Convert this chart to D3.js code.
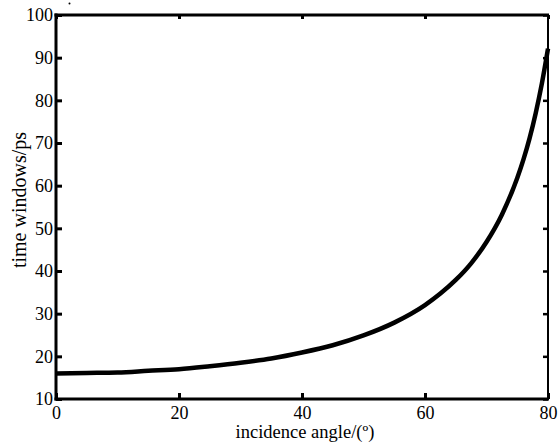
<!DOCTYPE html>
<html><head><meta charset="utf-8">
<script src="https://cdn.jsdelivr.net/npm/d3@7"></script>
<style>body{margin:0;background:#fff}svg{display:block}text{font-family:"Liberation Serif","Times New Roman",serif;fill:#000}</style>
</head><body>
<svg id="c" width="559" height="446"></svg>
<script>
const angles = [0, 5, 10, 15, 20, 25, 30, 35, 40, 45, 50, 55, 60, 62.5, 65, 67.5, 70, 72.5, 75, 76, 77, 78, 79, 80];
const timeWindows = [16.0, 16.1, 16.2, 16.6, 17.0, 17.7, 18.5, 19.5, 20.9, 22.6, 24.9, 27.9, 32.0, 34.7, 37.9, 41.8, 46.8, 53.2, 61.8, 66.1, 71.1, 77.0, 83.9, 92.1];
const xTicks = [0, 20, 40, 60, 80];
const yTicks = [10, 20, 30, 40, 50, 60, 70, 80, 90, 100];
const xTitle = "incidence angle/(º)";
const yTitle = "time windows/ps";

const L = 56, R = 548, T = 15, B = 399;
const svg = d3.select("#c");
const x = d3.scaleLinear().domain([0, 80]).range([L, R]);
const y = d3.scaleLinear().domain([10, 100]).range([B, T]);

// curve
const line = d3.line().x((d, i) => x(angles[i])).y(d => y(d)).curve(d3.curveMonotoneX);
svg.append("path").datum(timeWindows).attr("d", line)
  .attr("fill", "none").attr("stroke", "#000").attr("stroke-width", 4.5).attr("stroke-linejoin", "round");

// bottom axis
const gB = svg.append("g").attr("transform", `translate(0,${B})`)
  .call(d3.axisBottom(x).tickValues(xTicks).tickSize(-6).tickPadding(7).tickFormat(d3.format("d")));
// left axis
const gL = svg.append("g").attr("transform", `translate(${L},0)`)
  .call(d3.axisLeft(y).tickValues(yTicks).tickSize(-6).tickPadding(3).tickFormat(d3.format("d")));
// top axis
const gT = svg.append("g").attr("transform", `translate(0,${T})`)
  .call(d3.axisTop(x).tickValues(xTicks).tickSize(-4).tickFormat(""));
// right axis
const gR = svg.append("g").attr("transform", `translate(${R},0)`)
  .call(d3.axisRight(y).tickValues(yTicks).tickSize(-5).tickFormat(""));

[gB, gL, gT].forEach(g => {
  g.select(".domain").attr("stroke-width", 3).attr("stroke", "#000");
  g.selectAll(".tick line").attr("stroke-width", 3).attr("stroke", "#000");
});
gR.select(".domain").attr("stroke-width", 2).attr("stroke", "#000");
gR.selectAll(".tick line").attr("stroke-width", 2.5).attr("stroke", "#000");
gB.select(".domain").attr("d", `M${L - 1.5},0H${R + 1}`);
gL.select(".domain").attr("d", `M0,${B + 1.5}V${T - 1.5}`);
gT.select(".domain").attr("d", `M${L - 1.5},0H${R + 1}`);
gR.select(".domain").attr("d", `M0,${B}V${T}`);

gB.selectAll(".tick text").attr("font-size", 18).attr("fill", "#000");
gL.selectAll(".tick text").attr("font-size", 18).attr("fill", "#000").attr("dy", "0.33em");

// titles
svg.append("text").attr("x", 305).attr("y", 438).attr("text-anchor", "middle")
  .attr("font-size", 18.5).text(xTitle);
svg.append("text").attr("transform", "translate(26,200) rotate(-90)").attr("text-anchor", "middle")
  .attr("font-size", 20).text(yTitle);

// small stray dot near top
svg.append("circle").attr("cx", 69.5).attr("cy", 3.5).attr("r", 1).attr("fill", "#000");
</script>
</body></html>
